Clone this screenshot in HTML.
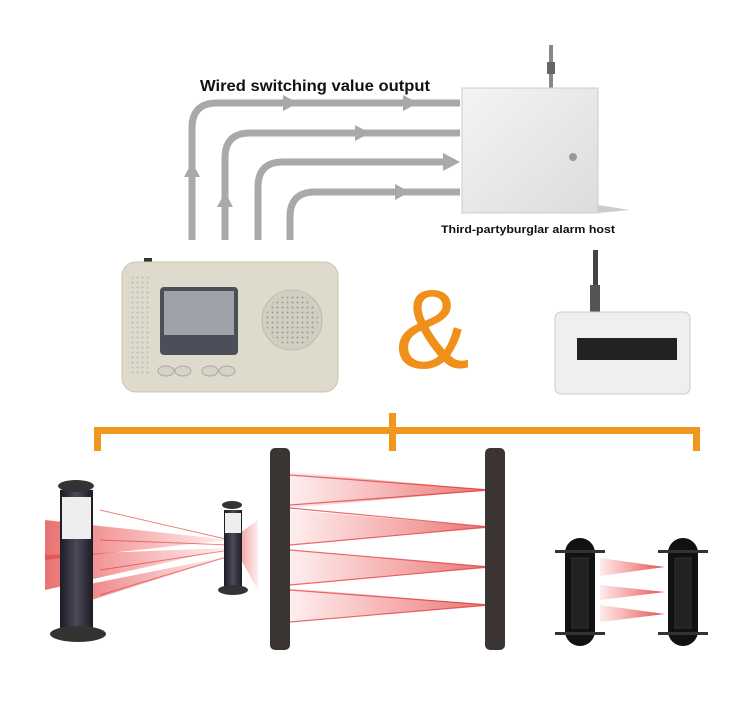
<!DOCTYPE html>
<html><head><style>
html,body{margin:0;padding:0;background:#fff;}
svg{display:block;}
text{font-family:"Liberation Sans",sans-serif;}
</style></head><body>
<svg width="754" height="709" viewBox="0 0 754 709" xmlns="http://www.w3.org/2000/svg">
<defs>
<linearGradient id="beamL" x1="0" x2="1"><stop offset="0" stop-color="#e33" stop-opacity="0.1"/><stop offset="1" stop-color="#d22" stop-opacity="0.8"/></linearGradient>
<linearGradient id="beamR" x1="1" x2="0"><stop offset="0" stop-color="#e33" stop-opacity="0.1"/><stop offset="1" stop-color="#d22" stop-opacity="0.8"/></linearGradient>
<linearGradient id="box" x1="0" x2="1" y1="0" y2="1"><stop offset="0" stop-color="#f4f4f4"/><stop offset="1" stop-color="#dcdcdc"/></linearGradient>
<linearGradient id="pil" x1="0" x2="1"><stop offset="0" stop-color="#1c1c26"/><stop offset="0.5" stop-color="#4a4a58"/><stop offset="1" stop-color="#1c1c26"/></linearGradient>
<pattern id="dots" width="5" height="5" patternUnits="userSpaceOnUse"><circle cx="2.5" cy="2.5" r="1" fill="#999"/></pattern>
</defs>

<!-- wires -->
<g fill="none" stroke="#a9a9a9" stroke-width="7">
<path d="M192 240 V128 Q192 103 217 103 H460"/>
<path d="M225 240 V158 Q225 133 250 133 H460"/>
<path d="M258 240 V187 Q258 162 283 162 H445"/>
<path d="M290 240 V217 Q290 192 315 192 H460"/>
</g>
<g fill="#a9a9a9">
<polygon points="283,95 283,111 298,103"/><polygon points="403,95 403,111 418,103"/>
<polygon points="355,125 355,141 370,133"/>
<polygon points="443,153 443,171 460,162"/>
<polygon points="395,184 395,200 410,192"/>
<polygon points="184,177 200,177 192,162"/>
<polygon points="217,207 233,207 225,192"/>
</g>
<text x="200" y="91" font-size="16" font-weight="bold" fill="#111" textLength="230" lengthAdjust="spacingAndGlyphs">Wired switching value output</text>

<!-- alarm host -->
<rect x="549" y="45" width="4" height="44" fill="#888"/>
<rect x="547" y="62" width="8" height="12" fill="#666"/>
<rect x="462" y="88" width="136" height="125" fill="url(#box)" stroke="#ccc"/>
<polygon points="598,205 630,210 598,213" fill="#ccc"/>
<circle cx="573" cy="157" r="4" fill="#999"/>
<text x="441" y="233" font-size="11" font-weight="bold" fill="#111" textLength="174" lengthAdjust="spacingAndGlyphs">Third-partyburglar alarm host</text>

<!-- main panel -->
<rect x="144" y="258" width="8" height="8" fill="#333"/>
<rect x="122" y="262" width="216" height="130" rx="14" fill="#dedbcd" stroke="#c8c4b4"/>
<rect x="128" y="275" width="22" height="100" fill="url(#dots)" opacity="0.5"/>
<rect x="160" y="287" width="78" height="68" rx="4" fill="#4a4f5a"/>
<rect x="164" y="291" width="70" height="44" fill="#9ea3aa"/>
<circle cx="292" cy="320" r="30" fill="#d2cfc1" stroke="#c0bcac"/>
<circle cx="292" cy="320" r="26" fill="url(#dots)"/>
<g fill="#d6d3c6" stroke="#aaa"><ellipse cx="166" cy="371" rx="8" ry="5"/><ellipse cx="183" cy="371" rx="8" ry="5"/><ellipse cx="210" cy="371" rx="8" ry="5"/><ellipse cx="227" cy="371" rx="8" ry="5"/></g>

<!-- ampersand -->
<text x="395" y="368" font-size="112" font-family="Liberation Serif,serif" fill="#f0901a">&amp;</text>

<!-- receiver -->
<rect x="593" y="250" width="5" height="40" fill="#444"/>
<rect x="590" y="285" width="10" height="28" fill="#555"/>
<rect x="555" y="312" width="135" height="82" rx="6" fill="#efefef" stroke="#ccc"/>
<rect x="577" y="338" width="100" height="22" fill="#222"/>

<!-- bracket -->
<g fill="#f0981e">
<rect x="94" y="427" width="606" height="7"/>
<rect x="94" y="427" width="7" height="24"/>
<rect x="693" y="427" width="7" height="24"/>
<rect x="389" y="413" width="7" height="38"/>
</g>

<!-- left pillar beams -->
<g fill="url(#beamR)" opacity="0.8">
<polygon points="45,520 230,540 45,560"/>
<polygon points="45,555 230,548 45,590"/>
<polygon points="60,590 230,556 60,610"/>
<polygon points="230,540 258,520 258,590"/>
</g>
<g stroke="#d33" stroke-width="1" opacity="0.6">
<line x1="100" y1="510" x2="230" y2="540"/><line x1="100" y1="540" x2="230" y2="545"/>
<line x1="100" y1="570" x2="230" y2="550"/><line x1="100" y1="595" x2="230" y2="556"/>
</g>
<rect x="60" y="490" width="33" height="140" fill="url(#pil)"/>
<rect x="62" y="497" width="29" height="42" fill="#eee"/>
<ellipse cx="76" cy="486" rx="18" ry="6" fill="#333"/>
<ellipse cx="78" cy="634" rx="28" ry="8" fill="#333"/>
<rect x="224" y="510" width="18" height="80" fill="url(#pil)"/>
<rect x="225" y="513" width="16" height="20" fill="#eee"/>
<ellipse cx="232" cy="505" rx="10" ry="4" fill="#333"/>
<ellipse cx="233" cy="590" rx="15" ry="5" fill="#333"/>

<!-- big bar beams -->
<g fill="url(#beamL)" opacity="0.8">
<polygon points="290,472 490,490 290,508"/>
<polygon points="290,510 490,527 290,545"/>
<polygon points="290,550 490,567 290,585"/>
<polygon points="290,588 490,605 290,622"/>
</g>
<g stroke="#d33" stroke-width="1.2" opacity="0.7">
<line x1="290" y1="475" x2="490" y2="490"/><line x1="290" y1="505" x2="490" y2="490"/>
<line x1="290" y1="508" x2="490" y2="527"/><line x1="290" y1="545" x2="490" y2="527"/>
<line x1="290" y1="550" x2="490" y2="567"/><line x1="290" y1="585" x2="490" y2="567"/>
<line x1="290" y1="590" x2="490" y2="605"/><line x1="290" y1="622" x2="490" y2="605"/>
</g>
<rect x="270" y="448" width="20" height="202" rx="5" fill="#3a3432"/>
<rect x="485" y="448" width="20" height="202" rx="5" fill="#3a3432"/>

<!-- small pair -->
<g fill="url(#beamL)">
<polygon points="600,558 665,567 600,576"/>
<polygon points="600,585 665,592 600,600"/>
<polygon points="600,605 665,614 600,622"/>
</g>
<rect x="565" y="538" width="30" height="108" rx="15" fill="#111"/>
<rect x="572" y="558" width="16" height="70" fill="#222" stroke="#333"/>
<rect x="555" y="550" width="50" height="3" fill="#333"/>
<rect x="555" y="632" width="50" height="3" fill="#333"/>
<rect x="668" y="538" width="30" height="108" rx="15" fill="#111"/>
<rect x="675" y="558" width="16" height="70" fill="#222" stroke="#333"/>
<rect x="658" y="550" width="50" height="3" fill="#333"/>
<rect x="658" y="632" width="50" height="3" fill="#333"/>
</svg>
</body></html>
